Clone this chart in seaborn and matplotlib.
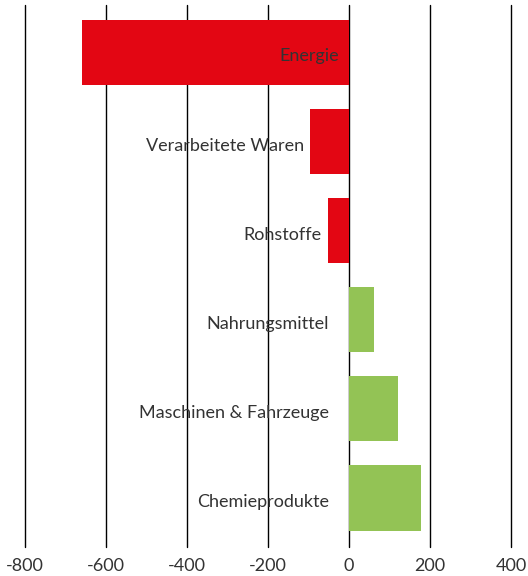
import pandas as pd
import matplotlib
matplotlib.use('Agg')
import seaborn as sns
import matplotlib.pyplot as plt

# Values
categories = ['Energie', 'Verarbeitete Waren', 'Rohstoffe',
              'Nahrungsmittel', 'Maschinen & Fahrzeuge', 'Chemieprodukte']
values = [-659, -97, -53, 61, 122, 178]
x_ticks = [-800, -600, -400, -200, 0, 200, 400]

df = pd.DataFrame({'category': categories, 'value': values})
df['sign'] = ['neg' if v < 0 else 'pos' for v in df['value']]

sns.set_theme(style='white')
plt.rcParams['font.family'] = ['Lato', 'DejaVu Sans']
plt.rcParams['axes.unicode_minus'] = False

text_color = '#333333'

fig = plt.figure(figsize=(5.28, 5.76), dpi=100)
ax = fig.add_axes([25 / 528, 1 - 547 / 576, 486 / 528, 542 / 576])

sns.barplot(data=df, x='value', y='category', hue='sign', order=categories,
            palette={'neg': '#e30613', 'pos': '#93c355'}, dodge=False,
            width=0.73, saturation=1, linewidth=0, legend=False, ax=ax, zorder=3)

ax.set_xlim(-800, 400)
ax.set_ylim(5.55, -0.53)
ax.set_xticks(x_ticks)
ax.set_xticklabels([str(t) for t in x_ticks], fontsize=13, color=text_color)
ax.tick_params(axis='x', length=0, pad=8)
ax.set_yticks([])
ax.set_xlabel('')
ax.set_ylabel('')
ax.grid(axis='x', color='black', linewidth=1)
for gl in ax.get_xgridlines():
    gl.set_clip_on(False)
ax.set_axisbelow(True)
for s in ax.spines.values():
    s.set_visible(False)

# category labels next to (or inside) the bars
for i, (cat, val) in enumerate(zip(categories, values)):
    if val < -300:
        xpos, off = 0, -10
    elif val < 0:
        xpos, off = val, -6
    else:
        xpos, off = 0, -20
    ax.annotate(cat, xy=(xpos, i), xytext=(off * 0.72, -3), textcoords='offset points',
                ha='right', va='center', fontsize=13, color=text_color, zorder=4)

plt.savefig('out.png', dpi=100)
